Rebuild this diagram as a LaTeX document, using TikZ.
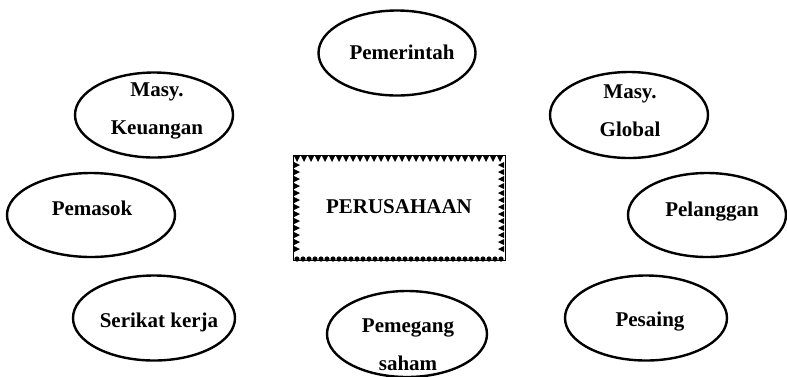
\documentclass[tikz,border=0pt]{standalone}
\usepackage{fontspec}
\setmainfont{Liberation Serif}
\usetikzlibrary{shapes.geometric, positioning}

\tikzset{
  pihak/.style={ellipse, draw, line width=2.4pt, inner sep=0pt},
  teks/.style={align=center, font=\fontsize{21}{38}\selectfont\bfseries},
  kotak/.style={draw, line width=0.8pt, minimum width=212pt, minimum height=105pt, inner sep=0pt}
}

\begin{document}
\begin{tikzpicture}[x=1pt, y=-1pt]
\useasboundingbox (0,0) rectangle (787,376);

% perusahaan di tengah
\node[kotak] (perusahaan) at (399,208) {};
\node[teks] (perusahaanteks) at (399,207) {PERUSAHAAN};
% sisi atas: segitiga ke bawah
\foreach \x in {297,304,...,502}
  \fill (\x-3,156) -- (\x+3,156) -- (\x,162) -- cycle;
% sisi kiri dan kanan: segitiga ke dalam
\foreach \y in {165,172,...,255} {
  \fill (294,\y-3) -- (294,\y+3) -- (300,\y) -- cycle;
  \fill (504,\y-3) -- (504,\y+3) -- (498,\y) -- cycle;
}
% sisi bawah: bulatan
\foreach \x in {297,303,...,502}
  \fill (\x,259) circle (2.6pt);

% pihak-pihak di sekeliling
\node[pihak, minimum width=157pt, minimum height=85pt] (pemerintah) at (397,53) {};
\node[teks] (pemerintahteks) at (402,52) {Pemerintah};

\node[pihak, minimum width=158pt, minimum height=85pt] (keuangan) at (154,115) {};
\node[teks] (keuanganteks) at (157,111) {Masy.\\Keuangan};

\node[pihak, minimum width=158pt, minimum height=86pt] (global) at (629,115) {};
\node[teks] (globalteks) at (630,111) {Masy.\\Global};

\node[pihak, minimum width=168pt, minimum height=84pt] (pemasok) at (91,215) {};
\node[teks] (pemasokteks) at (92,208) {Pemasok};

\node[pihak, minimum width=158pt, minimum height=84pt] (pelanggan) at (707,215) {};
\node[teks] (pelangganteks) at (712,212) {Pelanggan};

\node[pihak, minimum width=162pt, minimum height=85pt] (serikat) at (154,318) {};
\node[teks] (serikatteks) at (159,322) {Serikat kerja};

\node[pihak, minimum width=160pt, minimum height=86pt] (pemegang) at (407,334) {};
\node[teks] (pemegangteks) at (408,345) {Pemegang\\saham};

\node[pihak, minimum width=162pt, minimum height=85pt] (pesaing) at (646,318) {};
\node[teks] (pesaingteks) at (650,322) {Pesaing};
\end{tikzpicture}
\end{document}
